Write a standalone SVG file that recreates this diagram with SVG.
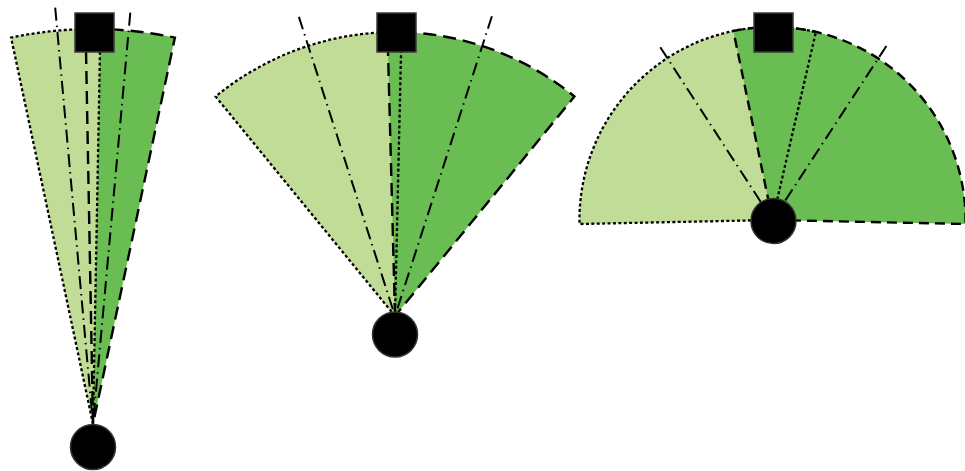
<svg xmlns="http://www.w3.org/2000/svg" width="965" height="471" viewBox="0 0 965 471">
<style>
.light{fill:#C1DC96;stroke:none}
.dark{fill:#6ABD52;stroke:none}
.dotted{fill:none;stroke:#000;stroke-width:2.3;stroke-dasharray:3 2.4}
.dashed{fill:none;stroke:#000;stroke-width:2.4;stroke-dasharray:13 7}
.dashed3{fill:none;stroke:#000;stroke-width:2.4;stroke-dasharray:10 6}
.dashdot{fill:none;stroke:#000;stroke-width:2;stroke-dasharray:13 5 1.5 5}
.sq{fill:#000;stroke:#3a3a3a;stroke-width:1.5}
.ci{fill:#000;stroke:#333;stroke-width:1.5}
</style>
<rect width="965" height="471" fill="#fff"/>

<g id="fan1">
  <path class="dark" d="M93,424 L85.6,29.1 A394,394 0 0 1 174.9,37.6 Z"/>
  <path class="light" d="M93,424 L11.1,37.6 A394,394 0 0 1 100.4,29.1 Z"/>
  <path class="dashed" d="M93,424 L85.6,29.1 A394,394 0 0 1 174.9,37.6 Z"/>
  <path class="dotted" d="M93,424 L11.1,37.6 A394,394 0 0 1 100.4,29.1 Z"/>
  <line class="dashdot" x1="55.2" y1="7.7" x2="93" y2="424"/>
  <line class="dashdot" x1="130.3" y1="12.7" x2="93" y2="424"/>
  <rect id="square1" class="sq" x="75" y="13" width="39" height="39"/>
  <circle id="circle1" class="ci" cx="93" cy="447" r="22.5"/>
</g>

<g id="fan2">
  <path class="light" d="M395,316 L215.6,96.5 A285,285 0 0 1 401.5,32 Z"/>
  <path class="dark" d="M395,316 L387.5,32 A285,285 0 0 1 574.4,96.5 Z"/>
  <path class="dotted" d="M395,316 L215.6,96.5 A285,285 0 0 1 401.5,32 Z"/>
  <path class="dashed" d="M395,316 L387.5,32 A285,285 0 0 1 574.4,96.5 Z"/>
  <line class="dashdot" x1="298.9" y1="16.9" x2="395" y2="316"/>
  <line class="dashdot" x1="491.9" y1="16.2" x2="395" y2="316"/>
  <rect id="square2" class="sq" x="377" y="13" width="39" height="39"/>
  <circle id="circle2" class="ci" cx="395" cy="334.5" r="22.5"/>
</g>

<g id="fan3">
  <path class="light" d="M772.5,220 L579.5,224 A193,193 0 0 1 815.9,31.9 Z"/>
  <path class="dark" d="M772.5,220 L733.4,31 A193,193 0 0 1 965.5,224 Z"/>
  <path class="dotted" d="M772.5,220 L579.5,224 A193,193 0 0 1 815.9,31.9 Z"/>
  <path class="dashed3" d="M772.5,220 L733.4,31 A193,193 0 0 1 965.5,224 Z"/>
  <line class="dashdot" x1="660.3" y1="47.2" x2="772.5" y2="220"/>
  <line class="dashdot" x1="886.4" y1="46" x2="772.5" y2="220"/>
  <rect id="square3" class="sq" x="754" y="13" width="39" height="39"/>
  <circle id="circle3" class="ci" cx="773.5" cy="221" r="22.5"/>
</g>
</svg>
